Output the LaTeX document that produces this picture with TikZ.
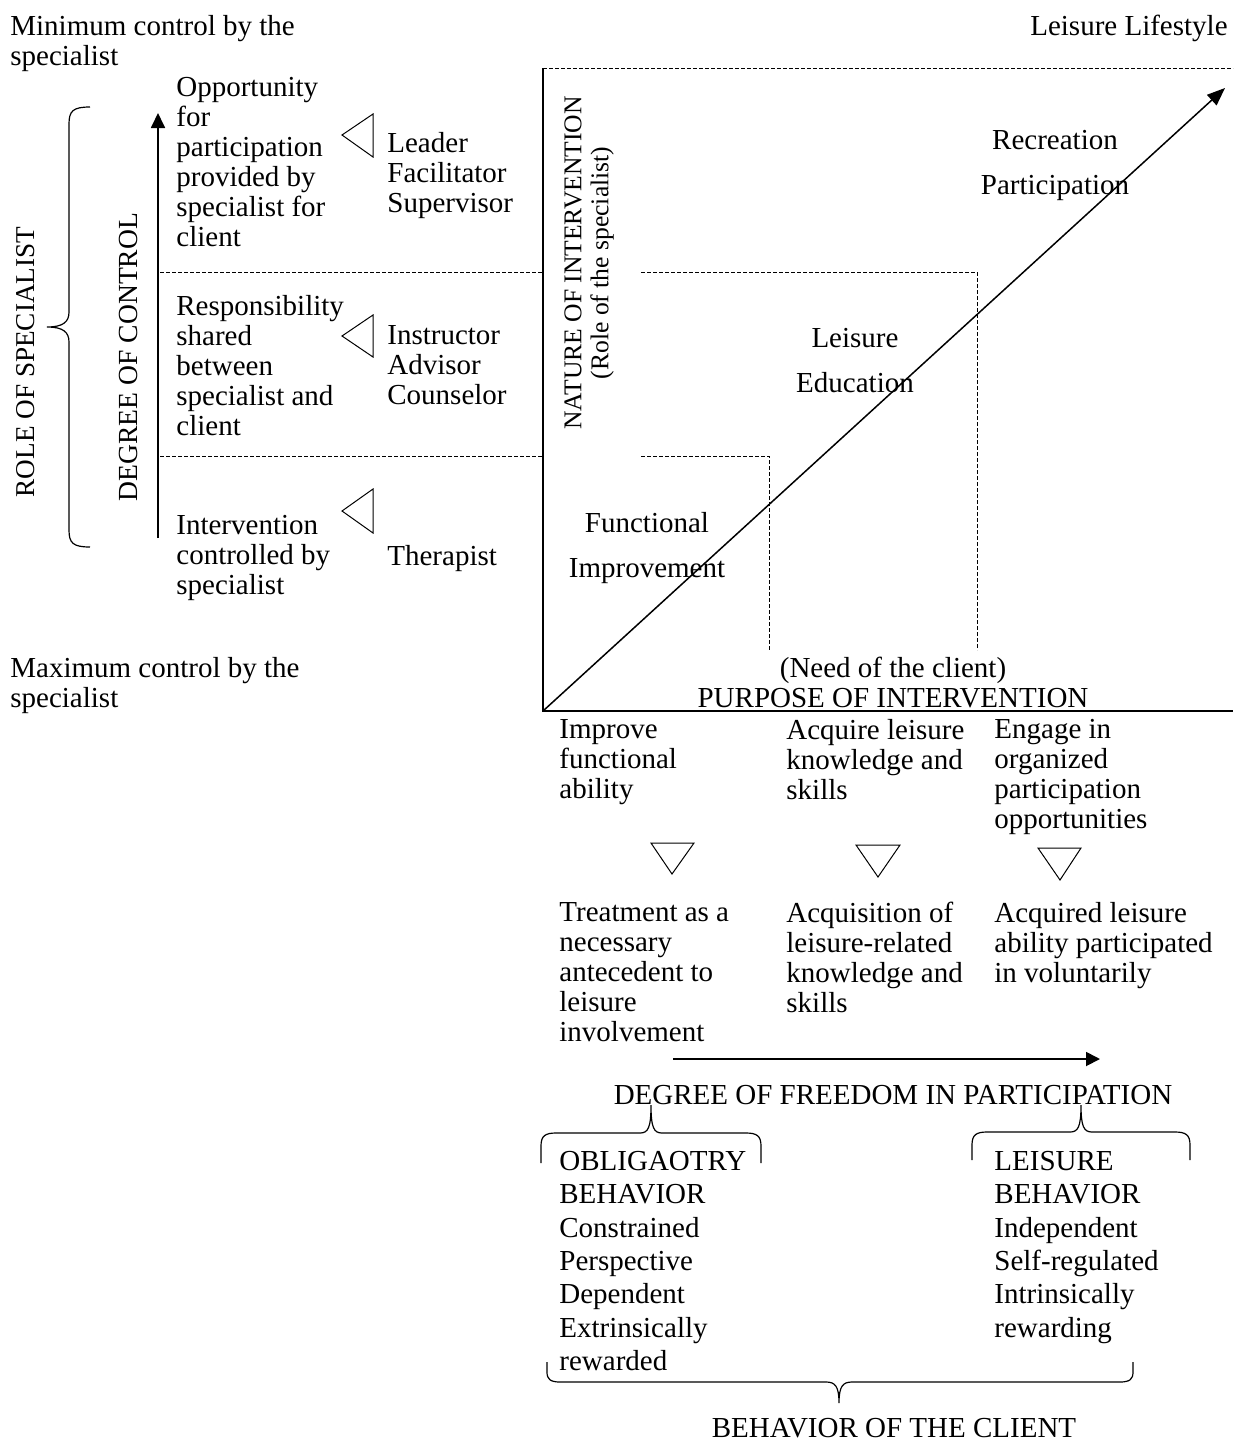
\documentclass[tikz,border=0pt]{standalone}
\usepackage{fontspec}
\setmainfont{Liberation Serif}
\usetikzlibrary{arrows.meta, positioning}
\tikzset{
  lbl/.style={font=\fontsize{14.5}{15}\selectfont, align=left, anchor=north west, inner sep=0pt},
  beh/.style={lbl, font=\fontsize{14.5}{16.67}\selectfont},
  ctrtxt/.style={font=\fontsize{14.5}{15}\selectfont, align=center, inner sep=0pt},
  quad/.style={font=\fontsize{14.5}{22.5}\selectfont, align=center, inner sep=0pt},
  grid/.style={dash pattern=on 2pt off 1pt, line width=0.4pt},
  axis/.style={line width=0.9pt},
  wedge/.style={line width=0.5pt},
  curly/.style={line width=0.6pt},
}
\begin{document}
\begin{tikzpicture}[x=0.5pt, y=-0.5pt]
\useasboundingbox (0,0) rectangle (1233,1441);

% corner notes
\node[lbl] (minctl) at (10,15) {Minimum control by the\\specialist};
\node[lbl] (maxctl) at (10,657) {Maximum control by the\\specialist};
\node[lbl, anchor=north east] (lifestyle) at (1228,15) {Leisure Lifestyle};

% left axes
\node[ctrtxt, rotate=90, font=\fontsize{13.6}{15}\selectfont] (rolespec) at (26,362) {ROLE OF SPECIALIST};
\node[ctrtxt, rotate=90, font=\fontsize{13.8}{15}\selectfont] (degctl) at (128,357) {DEGREE OF CONTROL};
\coordinate (ctlbot) at (158,538);
\coordinate (ctltop) at (158,113);
\draw[axis, -{Triangle[length=7.5pt, width=7pt]}] (ctlbot) -- (ctltop);
\draw[curly] (90,107) .. controls (73,107) and (69,111) .. (69,124) -- (69,312)
  .. controls (69,322) and (63,327) .. (47,327)
  .. controls (63,327) and (69,332) .. (69,342) -- (69,530)
  .. controls (69,543) and (73,547) .. (90,547);

% levels of control
\node[lbl] (opp) at (176,77) {Opportunity\\for\\participation\\provided by\\specialist for\\client};
\node[lbl] (leader) at (387,132) {Leader\\Facilitator\\Supervisor};
\node[lbl] (resp) at (176,295) {Responsibility\\shared\\between\\specialist and\\client};
\node[lbl] (instr) at (387,325) {Instructor\\Advisor\\Counselor};
\node[lbl] (interv) at (176,515) {Intervention\\controlled by\\specialist};
\node[lbl] (therap) at (387,545) {Therapist};
\draw[wedge] (342,135) -- (373,114) -- (373,157) -- cycle;
\draw[wedge] (342,336) -- (373,315) -- (373,357) -- cycle;
\draw[wedge] (342,511) -- (373,489) -- (373,533) -- cycle;

% main frame
\coordinate (origin) at (543,711);
\coordinate (tip) at (1225,88);
\draw[grid] (543,68) -- (1233,68);
\draw[axis] (543,68) -- (origin) -- (1233,711);
\draw[grid] (160,272) -- (543,272);
\draw[grid] (641,272) -- (977,272) -- (977,650);
\draw[grid] (160,456) -- (543,456);
\draw[grid] (641,456) -- (769,456) -- (769,650);
\draw[line width=0.75pt, -{Triangle[length=9pt, width=7pt]}] (origin) -- (tip);

\node[ctrtxt, rotate=90, font=\fontsize{12.8}{13.5}\selectfont] (nature) at (589,263) {NATURE OF INTERVENTION\\(Role of the specialist)};
\node[quad] (recpart) at (1055,165) {Recreation\\Participation};
\node[quad] (leisedu) at (855,361) {Leisure\\Education};
\node[quad] (funcimp) at (647,548) {Functional\\Improvement};
\node[ctrtxt, anchor=north] (purpose) at (893,657) {(Need of the client)\\PURPOSE OF INTERVENTION};

% purposes and outcomes
\node[lbl] (improve) at (559,719) {Improve\\functional\\ability};
\node[lbl] (acquire) at (786,719) {Acquire leisure\\knowledge and\\skills};
\node[lbl] (engage) at (994,719) {Engage in\\organized\\participation\\opportunities};
\draw[wedge] (651,843) -- (694,843) -- (672,874) -- cycle;
\draw[wedge] (856,845) -- (900,845) -- (878,877) -- cycle;
\draw[wedge] (1038,848) -- (1081,848) -- (1060,880) -- cycle;
\node[lbl] (treat) at (559,902) {Treatment as a\\necessary\\antecedent to\\leisure\\involvement};
\node[lbl] (acqsn) at (786,902) {Acquisition of\\leisure-related\\knowledge and\\skills};
\node[lbl] (acqrd) at (994,902) {Acquired leisure\\ability participated\\in voluntarily};

% freedom axis
\coordinate (freel) at (673,1059);
\coordinate (freer) at (1100,1059);
\draw[axis, -{Triangle[length=7pt, width=7pt]}] (freel) -- (freer);
\node[ctrtxt] (freedom) at (893,1095) {DEGREE OF FREEDOM IN PARTICIPATION};

\draw[curly] (541,1163) -- (541,1146) .. controls (541,1136) and (545,1133) .. (556,1133) -- (640,1133)
  .. controls (648,1133) and (651,1128) .. (651,1105)
  .. controls (651,1128) and (654,1133) .. (662,1133) -- (746,1133)
  .. controls (757,1133) and (761,1136) .. (761,1146) -- (761,1163);
\draw[curly] (972,1160) -- (972,1145) .. controls (972,1135) and (976,1132) .. (987,1132) -- (1070,1132)
  .. controls (1078,1132) and (1081,1127) .. (1081,1105)
  .. controls (1081,1127) and (1084,1132) .. (1092,1132) -- (1175,1132)
  .. controls (1186,1132) and (1190,1135) .. (1190,1145) -- (1190,1160);

\node[beh] (oblig) at (559,1151) {OBLIGAOTRY\\BEHAVIOR\\Constrained\\Perspective\\Dependent\\Extrinsically\\rewarded};
\node[beh] (leisbeh) at (994,1151) {LEISURE\\BEHAVIOR\\Independent\\Self-regulated\\Intrinsically\\rewarding};

\draw[curly] (547,1362) -- (547,1372) .. controls (547,1379) and (550,1382) .. (560,1382) -- (826,1382)
  .. controls (835,1382) and (839,1386) .. (839,1403)
  .. controls (839,1386) and (843,1382) .. (852,1382) -- (1120,1382)
  .. controls (1130,1382) and (1133,1379) .. (1133,1372) -- (1133,1362);
\node[ctrtxt] (client) at (894,1428) {BEHAVIOR OF THE CLIENT};
\end{tikzpicture}
\end{document}
